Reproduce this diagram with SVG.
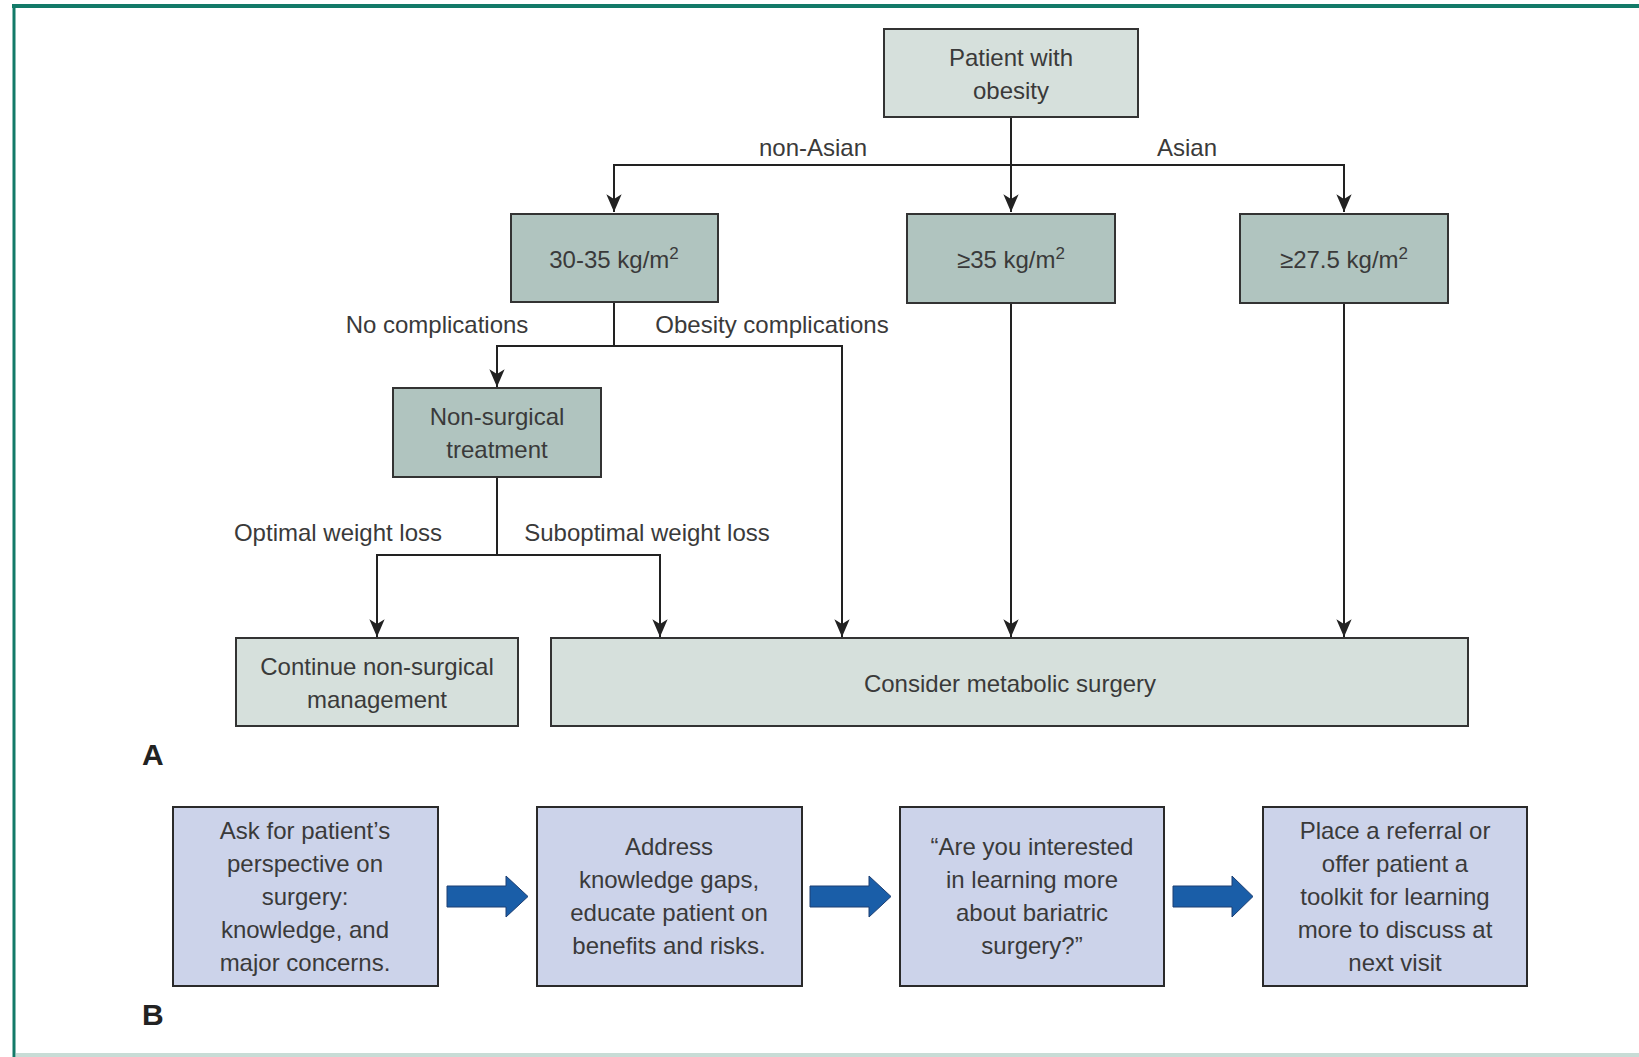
<svg xmlns="http://www.w3.org/2000/svg" width="1639" height="1057" viewBox="0 0 1639 1057">
<defs>
<style>
text{font-family:"Liberation Sans",Arial,sans-serif;font-size:24px;fill:#3a3a3a;text-anchor:middle}
.light{fill:#d6e0dc;stroke:#333;stroke-width:2}
.dark{fill:#b0c4bf;stroke:#333;stroke-width:2}
.lav{fill:#ccd3ea;stroke:#2a2a2a;stroke-width:2}
.conn{fill:none;stroke:#222;stroke-width:2}
.blk{fill:#1a5ea8;stroke:#1d3f73;stroke-width:1}
.panel{font-size:30px;font-weight:bold;fill:#222;text-anchor:start}
</style>
<marker id="ah" markerUnits="userSpaceOnUse" markerWidth="20" markerHeight="20" viewBox="-16 -8 17 16" refX="0" refY="0" orient="auto">
<path d="M-15,-6.5 L0,0 L-15,6.5 L-11,0 z" fill="#222"/>
</marker>
</defs>
<rect x="0" y="0" width="1639" height="1057" fill="#fff"/>
<g id="frame">
<line x1="12" y1="6" x2="1639" y2="6" stroke="#137a68" stroke-width="4"/>
<line x1="14" y1="4" x2="14" y2="1057" stroke="#137a68" stroke-width="3"/>
<rect x="16" y="1053" width="1623" height="4" fill="#c8dcd6"/>
</g>
<g id="connectors">
<path class="conn" d="M1011,117 V212" marker-end="url(#ah)"/>
<path class="conn" d="M614,212 V165 H1344 V212" marker-end="url(#ah)"/>
<path class="conn" d="M614,302 V346 H497 V387" marker-end="url(#ah)"/>
<path class="conn" d="M614,346 H842 V637" marker-end="url(#ah)"/>
<path class="conn" d="M497,477 V555 H377 V637" marker-end="url(#ah)"/>
<path class="conn" d="M497,555 H660 V637" marker-end="url(#ah)"/>
<path class="conn" d="M1011,303 V637" marker-end="url(#ah)"/>
<path class="conn" d="M1344,303 V637" marker-end="url(#ah)"/>
<path class="conn" d="M614,165 V212" marker-end="url(#ah)"/>
<text x="813" y="156">non-Asian</text>
<text x="1187" y="156">Asian</text>
<text x="437" y="333">No complications</text>
<text x="772" y="333">Obesity complications</text>
<text x="338" y="541">Optimal weight loss</text>
<text x="647" y="541">Suboptimal weight loss</text>
</g>
<g id="n-patient">
<rect class="light" x="884" y="29" width="254" height="88"/>
<text x="1011" y="66">Patient with</text>
<text x="1011" y="99">obesity</text>
</g>
<g id="n-3035">
<rect class="dark" x="511" y="214" width="207" height="88"/>
<text x="614" y="268">30-35 kg/m<tspan dy="-9" font-size="17">2</tspan></text>
</g>
<g id="n-35">
<rect class="dark" x="907" y="214" width="208" height="89"/>
<text x="1011" y="268">≥35 kg/m<tspan dy="-9" font-size="17">2</tspan></text>
</g>
<g id="n-275">
<rect class="dark" x="1240" y="214" width="208" height="89"/>
<text x="1344" y="268">≥27.5 kg/m<tspan dy="-9" font-size="17">2</tspan></text>
</g>
<g id="n-nonsurg">
<rect class="dark" x="393" y="388" width="208" height="89"/>
<text x="497" y="425">Non-surgical</text>
<text x="497" y="458">treatment</text>
</g>
<g id="n-continue">
<rect class="light" x="236" y="638" width="282" height="88"/>
<text x="377" y="675">Continue non-surgical</text>
<text x="377" y="708">management</text>
</g>
<g id="n-consider">
<rect class="light" x="551" y="638" width="917" height="88"/>
<text x="1010" y="692">Consider metabolic surgery</text>
</g>
<text class="panel" x="142" y="765">A</text>
<g id="b1">
<rect class="lav" x="173" y="807" width="265" height="179"/>
<text x="305" y="839">Ask for patient’s</text>
<text x="305" y="872">perspective on</text>
<text x="305" y="905">surgery:</text>
<text x="305" y="938">knowledge, and</text>
<text x="305" y="971">major concerns.</text>
</g>
<g id="b2">
<rect class="lav" x="537" y="807" width="265" height="179"/>
<text x="669" y="855">Address</text>
<text x="669" y="888">knowledge gaps,</text>
<text x="669" y="921">educate patient on</text>
<text x="669" y="954">benefits and risks.</text>
</g>
<g id="b3">
<rect class="lav" x="900" y="807" width="264" height="179"/>
<text x="1032" y="855">“Are you interested</text>
<text x="1032" y="888">in learning more</text>
<text x="1032" y="921">about bariatric</text>
<text x="1032" y="954">surgery?”</text>
</g>
<g id="b4">
<rect class="lav" x="1263" y="807" width="264" height="179"/>
<text x="1395" y="839">Place a referral or</text>
<text x="1395" y="872">offer patient a</text>
<text x="1395" y="905">toolkit for learning</text>
<text x="1395" y="938">more to discuss at</text>
<text x="1395" y="971">next visit</text>
</g>
<g id="block-arrows">
<path class="blk" d="M447,886 H506 V876 L528,896.5 L506,917 V907 H447 z"/>
<path class="blk" d="M810,886 H869 V876 L891,896.5 L869,917 V907 H810 z"/>
<path class="blk" d="M1173,886 H1232 V876 L1253,896.5 L1232,917 V907 H1173 z"/>
</g>
<text class="panel" x="142" y="1025">B</text>
</svg>
